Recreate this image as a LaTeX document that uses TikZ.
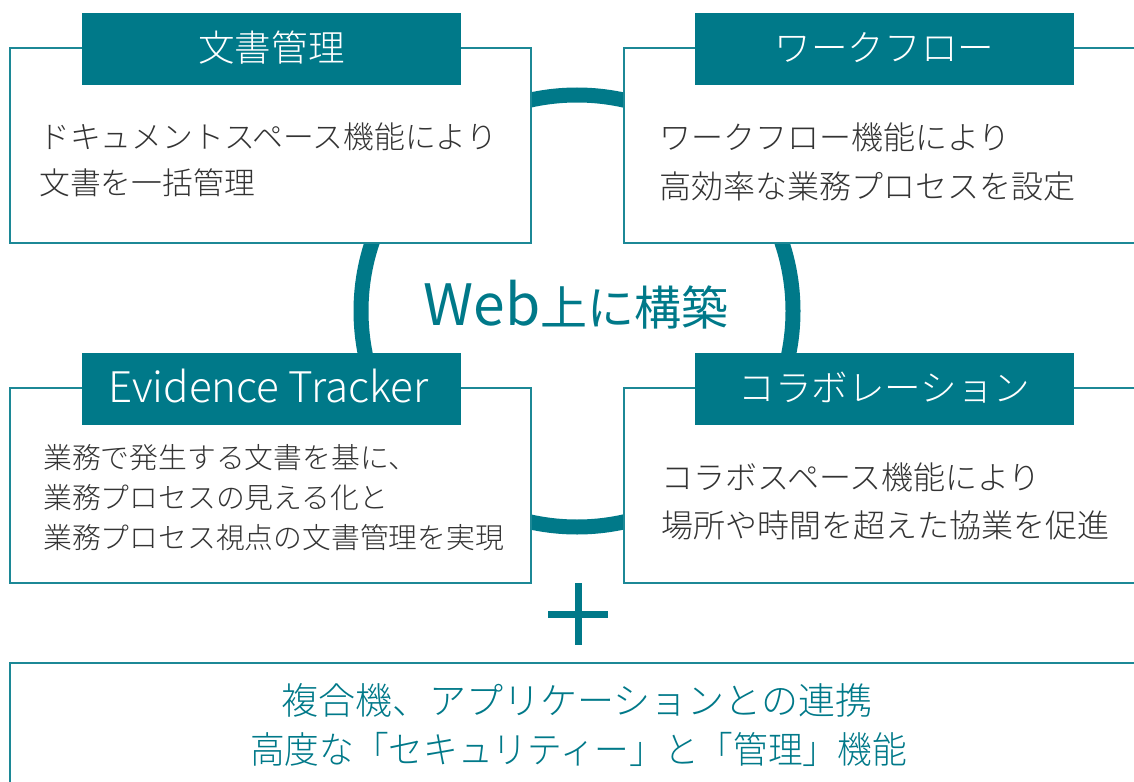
\documentclass[tikz,border=0pt]{standalone}
\usepackage{fontspec}
\setmainfont{Noto Sans CJK JP}
\IfFontExistsTF{Noto Sans CJK JP Light}
  {\newfontfamily\lightfont{Noto Sans CJK JP Light}}
  {\newfontfamily\lightfont{Noto Sans CJK JP}}
\definecolor{tealmain}{RGB}{0,121,137}
\definecolor{tealline}{RGB}{28,136,150}
\definecolor{bodytxt}{RGB}{51,51,51}
\begin{document}
\begin{tikzpicture}[x=0.75pt,y=-0.75pt,
  boxframe/.style={draw=tealline, line width=1.5pt, fill=white},
  band/.style={fill=tealmain},
  titletxt/.style={inner sep=0, text=white, anchor=base, font=\lightfont\fontsize{27.4pt}{30pt}\selectfont},
  titlelatin/.style={inner sep=0, text=white, anchor=base, font=\lightfont\fontsize{31.6pt}{35pt}\selectfont},
  bodyA/.style={inner sep=0, text=bodytxt, anchor=base west, font=\lightfont\fontsize{23.1pt}{26pt}\selectfont},
  bodyB/.style={inner sep=0, text=bodytxt, anchor=base west, font=\lightfont\fontsize{24pt}{27pt}\selectfont},
  bodyC/.style={inner sep=0, text=bodytxt, anchor=base west, font=\lightfont\fontsize{21.6pt}{24pt}\selectfont},
  bottomtxt/.style={inner sep=0, text=tealmain, anchor=base, font=\lightfont\fontsize{27.75pt}{31pt}\selectfont},
  ring/.style={draw=tealmain, line width=11.25pt},
  plus/.style={draw=tealmain, line width=5.25pt}
]
\useasboundingbox (0,0) rectangle (1134,781);

% ring behind the boxes
\draw[ring] (577,311) circle[radius=216];

% center text
\node[inner sep=0, anchor=base, text=tealmain] (web) at (576,325)
  {{\fontsize{42.75pt}{46pt}\selectfont Web}{\fontsize{35.25pt}{40pt}\selectfont 上に構築}};

% boxes
\path[boxframe] (10,48) rectangle (531,243);
\path[boxframe] (624,48) rectangle (1160,243);
\path[boxframe] (10,388) rectangle (531,583);
\path[boxframe] (624,388) rectangle (1160,583);
\path[boxframe] (10,663) rectangle (1160,800);

% title bands
\fill[band] (82,13) rectangle (461,85);
\fill[band] (695,13) rectangle (1074,85);
\fill[band] (82,353) rectangle (461,425);
\fill[band] (695,353) rectangle (1074,425);

\node[titletxt] (t1) at (271.5,61.4) {文書管理};
\node[titletxt] (t2) at (884.5,61.4) {ワークフロー};
\node[titlelatin] (t3) at (268.5,402) {Evidence Tracker};
\node[titletxt] (t4) at (884.5,401.5) {コラボレーション};

% body texts
\node[bodyA] (a1) at (39,148.7) {ドキュメントスペース機能により};
\node[bodyA] (a2) at (39,194.7) {文書を一括管理};

\node[bodyB] (b1) at (659,149.7) {ワークフロー機能により};
\node[bodyB] (b2) at (659,198.2) {高効率な業務プロセスを設定};

\node[bodyC] (c1) at (43,468.9) {業務で発生する文書を基に、};
\node[bodyC] (c2) at (43,508.9) {業務プロセスの見える化と};
\node[bodyC] (c3) at (43,548.9) {業務プロセス視点の文書管理を実現};

\node[bodyB] (d1) at (661,489.7) {コラボスペース機能により};
\node[bodyB] (d2) at (661,537.7) {場所や時間を超えた協業を促進};

% plus sign
\draw[plus] (578,583) -- (578,645);
\draw[plus] (548,614) -- (608,614);

% bottom text
\node[bottomtxt] (e1) at (577,714) {複合機、アプリケーションとの連携};
\node[bottomtxt, xscale=0.937] (e2) at (578.5,763) {高度な「セキュリティー」と「管理」機能};
\end{tikzpicture}
\end{document}
